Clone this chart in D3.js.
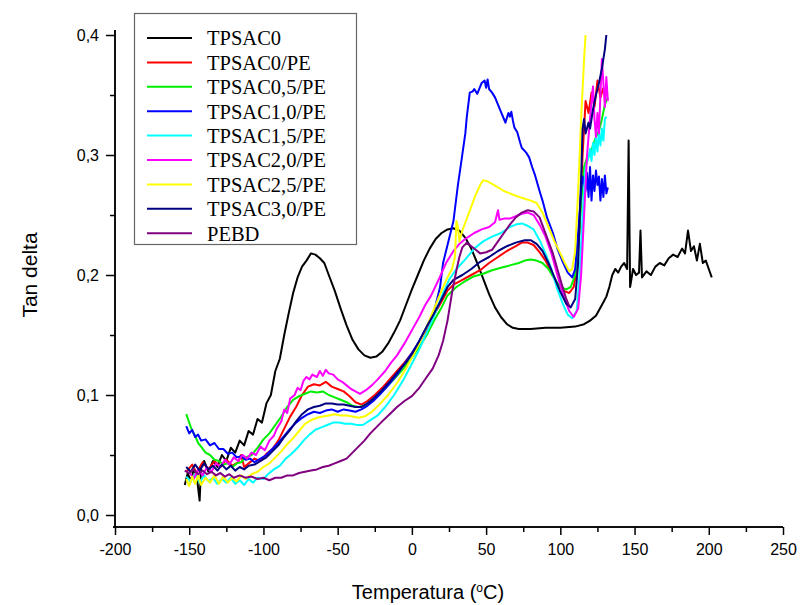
<html>
<head>
<meta charset="utf-8">
<script src="https://d3js.org/d3.v7.min.js"></script>
<style>
  body { margin: 0; background: #fff; }
  svg { font-family: "Liberation Sans", Arial, sans-serif; }
  .curve { fill: none; stroke-width: 2; stroke-linejoin: round; }
  .axis path, .axis line { stroke: #000; stroke-width: 1.5; }
  .axis text { font-size: 16px; fill: #000; }
  .legend text { font-family: "Liberation Serif", "Times New Roman", serif; font-size: 20.5px; }
</style>
</head>
<body>
<div id="chart"></div>
<script>
// tick labels
var xTicks = [-200, -150, -100, -50, 0, 50, 100, 150, 200, 250];
var yTicks = [0, 0.1, 0.2, 0.3, 0.4];

var names = ["TPSAC0", "TPSAC0/PE", "TPSAC0,5/PE", "TPSAC1,0/PE", "TPSAC1,5/PE",
             "TPSAC2,0/PE", "TPSAC2,5/PE", "TPSAC3,0/PE", "PEBD"];
var colors = ["#000000", "#ff0000", "#00ee00", "#0000ff", "#00ffff",
              "#ff00ff", "#ffff00", "#000080", "#800080"];

// [temperature (C), tan delta]
var tpsac0 = [[-153,0.025],[-151,0.035],[-149,0.028],[-147,0.038],[-145,0.033],[-143,0.012],[-142,0.04],[-140,0.045],[-137,0.036],[-134,0.045],[-131,0.04],[-128,0.05],[-125,0.045],[-122,0.056],[-119,0.052],[-116,0.062],[-113,0.058],[-110,0.07],[-107,0.067],[-104,0.08],[-101,0.077],[-98,0.093],[-95,0.1],[-92,0.12],[-89,0.13],[-86,0.15],[-83,0.168],[-80,0.185],[-77,0.198],[-74,0.207],[-71,0.212],[-68,0.218],[-65,0.217],[-62,0.214],[-59,0.21],[-56,0.2],[-52,0.187],[-48,0.172],[-44,0.158],[-40,0.146],[-36,0.138],[-32,0.133],[-28,0.131],[-24,0.132],[-20,0.136],[-16,0.143],[-12,0.152],[-8,0.162],[-4,0.175],[0,0.188],[4,0.2],[8,0.212],[12,0.222],[16,0.23],[20,0.235],[24,0.238],[28,0.239],[32,0.237],[36,0.231],[40,0.222],[44,0.21],[48,0.197],[52,0.184],[56,0.173],[60,0.165],[64,0.159],[68,0.156],[72,0.155],[80,0.155],[90,0.156],[100,0.156],[110,0.157],[116,0.159],[120,0.162],[124,0.166],[128,0.175],[131,0.182],[133,0.19],[135,0.2],[137,0.205],[139,0.202],[141,0.207],[143,0.21],[145,0.205],[146,0.312],[147,0.19],[149,0.205],[151,0.2],[153,0.202],[154,0.237],[155,0.198],[158,0.203],[161,0.2],[164,0.207],[167,0.21],[170,0.208],[173,0.214],[176,0.217],[179,0.215],[182,0.222],[184,0.218],[186,0.237],[188,0.22],[190,0.224],[192,0.212],[194,0.226],[196,0.21],[198,0.212],[200,0.205],[202,0.198]];

var tpsac0pe = [[-152,0.036],[-148,0.042],[-145,0.035],[-141,0.044],[-137,0.038],[-133,0.045],[-129,0.04],[-125,0.046],[-121,0.041],[-117,0.044],[-115,0.05],[-113,0.04],[-110,0.043],[-106,0.047],[-102,0.045],[-98,0.051],[-94,0.055],[-90,0.062],[-86,0.072],[-82,0.082],[-78,0.09],[-74,0.1],[-70,0.107],[-66,0.109],[-62,0.108],[-58,0.111],[-54,0.107],[-50,0.105],[-46,0.103],[-42,0.099],[-38,0.094],[-34,0.092],[-30,0.095],[-25,0.1],[-20,0.106],[-15,0.113],[-10,0.12],[-5,0.127],[0,0.135],[5,0.144],[10,0.155],[15,0.167],[20,0.178],[24,0.187],[28,0.192],[34,0.196],[40,0.2],[46,0.204],[52,0.21],[58,0.215],[64,0.22],[70,0.224],[74,0.227],[78,0.227],[82,0.225],[86,0.219],[90,0.212],[94,0.202],[98,0.193],[102,0.187],[106,0.185],[109,0.19],[111,0.205],[113,0.24],[115,0.3],[117,0.345],[119,0.335],[121,0.352],[123,0.34],[125,0.362],[127,0.348],[129,0.356]];

var tpsac05pe = [[-152,0.084],[-150,0.077],[-148,0.07],[-146,0.066],[-144,0.06],[-142,0.057],[-139,0.052],[-136,0.05],[-133,0.046],[-130,0.045],[-127,0.042],[-124,0.043],[-121,0.04],[-118,0.043],[-115,0.044],[-112,0.048],[-108,0.05],[-104,0.056],[-100,0.063],[-96,0.068],[-92,0.075],[-88,0.082],[-84,0.09],[-80,0.096],[-76,0.099],[-72,0.101],[-68,0.103],[-64,0.102],[-60,0.103],[-56,0.1],[-52,0.098],[-48,0.096],[-44,0.094],[-40,0.091],[-36,0.09],[-32,0.091],[-28,0.094],[-22,0.1],[-16,0.108],[-10,0.116],[-5,0.123],[0,0.131],[5,0.14],[10,0.15],[15,0.162],[20,0.173],[24,0.183],[30,0.19],[36,0.195],[42,0.199],[48,0.201],[54,0.204],[60,0.206],[66,0.208],[72,0.21],[76,0.212],[80,0.213],[84,0.212],[88,0.21],[92,0.205],[96,0.197],[100,0.19],[104,0.188],[107,0.19],[110,0.2],[112,0.22],[114,0.26],[116,0.29],[118,0.298],[120,0.3],[122,0.308],[124,0.315],[126,0.32],[128,0.33],[130,0.342],[132,0.348]];

var tpsac10pe = [[-152,0.074],[-150,0.068],[-148,0.071],[-146,0.065],[-144,0.067],[-142,0.062],[-139,0.063],[-136,0.058],[-133,0.06],[-130,0.055],[-127,0.055],[-124,0.051],[-121,0.052],[-118,0.048],[-115,0.049],[-112,0.046],[-109,0.047],[-106,0.044],[-102,0.047],[-98,0.05],[-94,0.055],[-90,0.06],[-86,0.066],[-82,0.072],[-78,0.077],[-74,0.081],[-70,0.084],[-66,0.086],[-62,0.085],[-58,0.087],[-54,0.088],[-50,0.086],[-46,0.088],[-42,0.087],[-38,0.086],[-34,0.088],[-30,0.091],[-26,0.095],[-22,0.1],[-16,0.108],[-10,0.117],[-5,0.126],[0,0.135],[5,0.145],[10,0.157],[15,0.17],[19,0.19],[21,0.21],[24,0.225],[28,0.245],[31,0.275],[33,0.292],[36,0.318],[37,0.332],[39,0.352],[41,0.353],[42,0.355],[44,0.351],[46,0.357],[47,0.36],[49,0.362],[50,0.356],[51,0.363],[52,0.355],[54,0.352],[56,0.348],[58,0.342],[60,0.336],[62,0.33],[63,0.327],[65,0.335],[66,0.332],[67,0.336],[68,0.329],[69,0.323],[71,0.319],[73,0.31],[74,0.306],[77,0.302],[79,0.298],[81,0.29],[83,0.283],[86,0.27],[88,0.262],[91,0.248],[95,0.235],[98,0.222],[102,0.21],[105,0.202],[108,0.198],[110,0.205],[112,0.235],[114,0.27],[115,0.282],[117,0.27],[118,0.285],[119,0.265],[120,0.29],[121,0.262],[122,0.283],[123,0.27],[124,0.287],[125,0.275],[126,0.282],[127,0.262],[128,0.28],[129,0.265],[130,0.283],[131,0.268],[132,0.273]];

var tpsac15pe = [[-152,0.032],[-149,0.028],[-146,0.034],[-143,0.027],[-140,0.033],[-137,0.028],[-134,0.031],[-131,0.026],[-128,0.03],[-125,0.027],[-122,0.031],[-119,0.026],[-116,0.029],[-113,0.025],[-110,0.03],[-107,0.027],[-104,0.031],[-100,0.03],[-97,0.034],[-93,0.038],[-89,0.041],[-85,0.047],[-81,0.051],[-77,0.056],[-73,0.062],[-69,0.067],[-65,0.071],[-61,0.073],[-57,0.075],[-53,0.077],[-49,0.077],[-45,0.076],[-41,0.076],[-37,0.075],[-33,0.075],[-28,0.079],[-23,0.083],[-18,0.09],[-12,0.1],[-6,0.112],[0,0.126],[5,0.138],[10,0.152],[15,0.166],[20,0.182],[25,0.196],[30,0.205],[36,0.213],[42,0.222],[48,0.228],[54,0.232],[60,0.235],[66,0.24],[70,0.242],[74,0.243],[78,0.241],[82,0.238],[86,0.229],[90,0.218],[94,0.205],[98,0.188],[102,0.175],[105,0.167],[108,0.164],[111,0.17],[113,0.2],[115,0.25],[117,0.29],[119,0.298],[120,0.305],[121,0.295],[122,0.31],[123,0.3],[124,0.315],[125,0.303],[126,0.318],[127,0.308],[128,0.322],[129,0.312],[130,0.33],[131,0.332]];

var tpsac20pe = [[-150,0.036],[-147,0.03],[-144,0.038],[-141,0.033],[-138,0.04],[-135,0.036],[-132,0.043],[-129,0.04],[-126,0.046],[-123,0.042],[-120,0.048],[-117,0.045],[-114,0.05],[-111,0.047],[-108,0.052],[-105,0.05],[-102,0.057],[-99,0.054],[-96,0.062],[-93,0.066],[-91,0.072],[-88,0.078],[-86,0.088],[-84,0.085],[-82,0.097],[-79,0.1],[-77,0.106],[-75,0.104],[-73,0.112],[-71,0.115],[-69,0.113],[-67,0.117],[-64,0.115],[-62,0.12],[-60,0.116],[-58,0.121],[-56,0.118],[-53,0.117],[-50,0.113],[-47,0.111],[-44,0.108],[-41,0.105],[-38,0.103],[-35,0.101],[-31,0.104],[-27,0.108],[-23,0.113],[-18,0.12],[-14,0.127],[-10,0.133],[-5,0.143],[0,0.154],[5,0.165],[9,0.175],[13,0.183],[18,0.196],[23,0.21],[28,0.22],[32,0.226],[37,0.231],[42,0.235],[47,0.238],[52,0.24],[56,0.244],[58,0.254],[59,0.246],[62,0.247],[66,0.247],[70,0.249],[74,0.251],[78,0.252],[82,0.25],[86,0.242],[90,0.232],[94,0.218],[98,0.2],[102,0.183],[106,0.17],[109,0.165],[112,0.172],[114,0.2],[116,0.25],[118,0.3],[119,0.315],[120,0.33],[121,0.345],[122,0.357],[123,0.33],[124,0.315],[125,0.335],[126,0.318],[127,0.35],[128,0.38],[129,0.36],[130,0.34],[131,0.365],[132,0.345]];

var tpsac25pe = [[-152,0.03],[-150,0.024],[-148,0.032],[-146,0.026],[-144,0.033],[-142,0.025],[-139,0.031],[-136,0.027],[-133,0.033],[-130,0.026],[-127,0.032],[-124,0.027],[-121,0.031],[-118,0.028],[-115,0.033],[-112,0.03],[-108,0.034],[-104,0.036],[-100,0.04],[-96,0.043],[-92,0.048],[-88,0.053],[-84,0.059],[-80,0.064],[-76,0.07],[-72,0.076],[-68,0.079],[-64,0.081],[-60,0.082],[-56,0.083],[-52,0.084],[-48,0.083],[-44,0.083],[-40,0.082],[-36,0.081],[-32,0.082],[-27,0.086],[-22,0.092],[-16,0.1],[-10,0.11],[-5,0.12],[0,0.131],[5,0.143],[10,0.157],[15,0.172],[20,0.187],[24,0.198],[27,0.205],[29,0.215],[30,0.245],[31,0.24],[32,0.228],[34,0.237],[37,0.247],[40,0.257],[43,0.267],[46,0.275],[48,0.279],[51,0.278],[54,0.276],[58,0.273],[62,0.27],[66,0.268],[70,0.266],[75,0.264],[80,0.262],[84,0.26],[88,0.252],[92,0.24],[96,0.228],[100,0.218],[103,0.21],[106,0.203],[108,0.205],[110,0.22],[112,0.27],[114,0.33],[116,0.38],[117,0.4]];

var tpsac30pe = [[-152,0.04],[-149,0.036],[-146,0.042],[-143,0.037],[-140,0.043],[-137,0.038],[-134,0.041],[-131,0.037],[-128,0.042],[-125,0.038],[-122,0.041],[-119,0.037],[-116,0.04],[-113,0.038],[-110,0.041],[-106,0.042],[-102,0.045],[-98,0.048],[-94,0.053],[-90,0.058],[-86,0.065],[-82,0.071],[-78,0.078],[-74,0.084],[-70,0.088],[-66,0.09],[-62,0.091],[-58,0.093],[-54,0.093],[-50,0.092],[-46,0.092],[-42,0.091],[-38,0.09],[-34,0.09],[-30,0.093],[-26,0.097],[-21,0.103],[-15,0.111],[-9,0.12],[-4,0.127],[0,0.134],[5,0.145],[10,0.157],[15,0.168],[20,0.18],[24,0.19],[28,0.196],[34,0.2],[40,0.205],[46,0.211],[52,0.215],[58,0.22],[64,0.224],[70,0.227],[76,0.229],[80,0.229],[84,0.226],[88,0.22],[92,0.21],[96,0.198],[100,0.186],[104,0.176],[107,0.173],[110,0.18],[112,0.21],[114,0.28],[115,0.322],[116,0.33],[117,0.318],[119,0.327],[120,0.322],[121,0.33],[122,0.338],[124,0.35],[126,0.36],[128,0.372],[130,0.388],[131,0.4]];

var pebd = [[-153,0.037],[-150,0.035],[-147,0.038],[-144,0.034],[-141,0.037],[-138,0.034],[-135,0.036],[-132,0.033],[-129,0.035],[-126,0.032],[-123,0.034],[-120,0.031],[-116,0.033],[-112,0.031],[-108,0.032],[-104,0.03],[-100,0.031],[-96,0.029],[-92,0.031],[-88,0.031],[-84,0.033],[-80,0.033],[-76,0.035],[-72,0.036],[-68,0.037],[-64,0.038],[-60,0.04],[-56,0.041],[-52,0.043],[-48,0.045],[-44,0.047],[-40,0.052],[-36,0.057],[-32,0.062],[-28,0.068],[-24,0.073],[-20,0.078],[-15,0.084],[-10,0.09],[-5,0.095],[0,0.099],[5,0.106],[10,0.115],[14,0.122],[18,0.133],[21,0.145],[24,0.162],[27,0.185],[30,0.204],[32,0.215],[34,0.223],[37,0.227],[40,0.224],[43,0.221],[46,0.218],[50,0.219],[54,0.221],[58,0.228],[62,0.235],[66,0.242],[70,0.248],[74,0.252],[78,0.254],[82,0.253],[86,0.248],[89,0.238],[92,0.228],[95,0.218],[98,0.205],[101,0.192],[104,0.18],[106,0.174]];

var series = [tpsac0, tpsac0pe, tpsac05pe, tpsac10pe, tpsac15pe, tpsac20pe, tpsac25pe, tpsac30pe, pebd];

var width = 803, height = 605;

var svg = d3.select("#chart").append("svg")
  .attr("width", width)
  .attr("height", height);

var x = d3.scaleLinear().domain([-200, 250]).range([115, 783]);
var y = d3.scaleLinear().domain([-0.01, 0.4]).range([527, 35]);

var line = d3.line()
  .x(d => x(d[0]))
  .y(d => y(d[1]));

/* curves */
svg.append("g").selectAll("path")
  .data(series).enter()
  .append("path")
  .attr("class", "curve")
  .attr("d", d => line(d))
  .style("stroke", (d, i) => colors[i]);

/* axes */
var comma = v => d3.format(".1f")(v).replace(".", ",");

svg.append("g")
  .attr("class", "axis x-axis")
  .attr("transform", "translate(0,527)")
  .call(d3.axisBottom(x).tickValues(xTicks).tickFormat(d => String(d)).tickSize(8).tickSizeOuter(0).tickPadding(9));
svg.append("g")
  .attr("class", "axis x-axis")
  .attr("transform", "translate(0,527)")
  .call(d3.axisBottom(x).tickValues(d3.range(-175, 250, 50)).tickSize(5).tickSizeOuter(0).tickFormat(""));

svg.append("g")
  .attr("class", "axis y-axis")
  .attr("transform", "translate(115,0)")
  .call(d3.axisLeft(y).tickValues(yTicks).tickFormat(comma).tickSize(9).tickSizeOuter(0).tickPadding(7));
svg.append("g")
  .attr("class", "axis y-axis")
  .attr("transform", "translate(115,0)")
  .call(d3.axisLeft(y).tickValues([0.05, 0.15, 0.25, 0.35]).tickSize(5).tickSizeOuter(0).tickFormat(""));

svg.selectAll(".x-axis .domain").attr("d", "M113,0H783");
svg.selectAll(".y-axis .domain").attr("d", "M0,528V30");

/* axis titles */
svg.append("text")
  .attr("transform", "translate(37,275) rotate(-90)")
  .attr("text-anchor", "middle")
  .style("font-size", "21px")
  .text("Tan delta");

var xt = svg.append("text")
  .attr("x", 428)
  .attr("y", 599)
  .attr("text-anchor", "middle")
  .style("font-size", "20px");
xt.append("tspan").text("Temperatura (");
xt.append("tspan").attr("dy", -7).style("font-size", "12px").text("o");
xt.append("tspan").attr("dy", 7).text("C)");

/* legend */
var legend = svg.append("g").attr("class", "legend");
legend.append("rect")
  .attr("x", 134.5).attr("y", 13.5)
  .attr("width", 222).attr("height", 231)
  .attr("fill", "#fff")
  .attr("stroke", "#666")
  .attr("stroke-width", 1.2);

var rows = legend.selectAll(".row")
  .data(names).enter()
  .append("g")
  .attr("transform", (d, i) => `translate(0, ${38 + i * 24.4})`);
rows.append("line")
  .attr("x1", 147).attr("x2", 192)
  .attr("stroke", (d, i) => colors[i])
  .attr("stroke-width", 2);
rows.append("text")
  .attr("x", 207)
  .attr("dy", "0.36em")
  .text(d => d);
</script>
</body>
</html>
